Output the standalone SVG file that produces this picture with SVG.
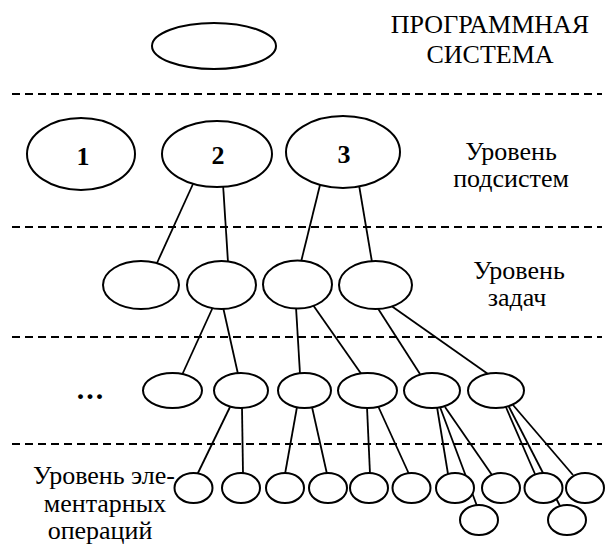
<svg xmlns="http://www.w3.org/2000/svg" width="605" height="547" viewBox="0 0 605 547">
<style>
.n{fill:#fff;stroke:#000;stroke-width:2}
.c line{stroke:#000;stroke-width:1.8}
.d line{stroke:#000;stroke-width:2;stroke-dasharray:8 5}
.t{font-family:"Liberation Serif","DejaVu Serif","Times New Roman",serif;font-size:26px;fill:#000;text-anchor:middle}
.b{font-family:"Liberation Serif","DejaVu Serif","Times New Roman",serif;font-size:26px;font-weight:bold;fill:#000;text-anchor:middle}
</style>
<rect width="605" height="547" fill="#fff"/>
<g id="levels" class="d">
<line x1="12" y1="94" x2="602" y2="94"/>
<line x1="12" y1="227" x2="602" y2="227"/>
<line x1="12" y1="337" x2="602" y2="337"/>
<line x1="12" y1="444" x2="602" y2="444"/>
</g>
<g id="labels">
<text class="t" x="490" y="33">ПРОГРАММНАЯ</text>
<text class="t" x="490" y="63">СИСТЕМА</text>
<text class="t" x="511" y="160">Уровень</text>
<text class="t" x="511" y="187">подсистем</text>
<text class="t" x="519" y="279">Уровень</text>
<text class="t" x="517" y="306">задач</text>
<text class="t" x="104" y="484">Уровень эле-</text>
<text class="t" x="105" y="512">ментарных</text>
<text class="t" x="100" y="539">операций</text>
<text class="b" x="91" y="399" style="font-size:30px" letter-spacing="2">...</text>
</g>
<g id="connectors" class="c">
<line x1="193" y1="184" x2="157" y2="263"/>
<line x1="223" y1="184" x2="228" y2="262"/>
<line x1="320" y1="185" x2="301" y2="262"/>
<line x1="359" y1="185" x2="372" y2="262"/>
<line x1="213" y1="307" x2="182" y2="375"/>
<line x1="223" y1="307" x2="238" y2="374"/>
<line x1="296" y1="307" x2="300" y2="374"/>
<line x1="313" y1="305" x2="362" y2="375"/>
<line x1="377" y1="307" x2="420" y2="374"/>
<line x1="390" y1="305" x2="488" y2="374"/>
<line x1="230" y1="407" x2="197" y2="475"/>
<line x1="242" y1="407" x2="243" y2="474"/>
<line x1="297" y1="407" x2="285" y2="474"/>
<line x1="312" y1="407" x2="327" y2="474"/>
<line x1="367" y1="407" x2="370" y2="474"/>
<line x1="378" y1="406" x2="409" y2="474"/>
<line x1="437" y1="407" x2="448" y2="474"/>
<line x1="440" y1="407" x2="477" y2="506"/>
<line x1="445" y1="407" x2="492" y2="475"/>
<line x1="505" y1="405" x2="535" y2="474"/>
<line x1="508" y1="405" x2="560" y2="506"/>
<line x1="513" y1="405" x2="573" y2="475"/>
</g>
<g id="root"><ellipse class="n" cx="214" cy="46" rx="62" ry="23"/></g>
<g id="s1"><ellipse class="n" cx="81" cy="154" rx="54" ry="36"/><text class="b" x="83" y="165">1</text></g>
<g id="s2"><ellipse class="n" cx="217" cy="154" rx="55" ry="33"/><text class="b" x="218" y="164">2</text></g>
<g id="s3"><ellipse class="n" cx="343" cy="152" rx="57" ry="36"/><text class="b" x="344" y="163">3</text></g>
<g id="t1"><ellipse class="n" cx="141" cy="285" rx="38" ry="24"/></g>
<g id="t2"><ellipse class="n" cx="221.5" cy="285" rx="34.5" ry="24"/></g>
<g id="t3"><ellipse class="n" cx="297.5" cy="284.5" rx="34.5" ry="24"/></g>
<g id="t4"><ellipse class="n" cx="375.5" cy="285" rx="36.5" ry="24"/></g>
<g id="m1"><ellipse class="n" cx="172.5" cy="390.5" rx="29.5" ry="17.5"/></g>
<g id="m2"><ellipse class="n" cx="241" cy="390.5" rx="27" ry="17.5"/></g>
<g id="m3"><ellipse class="n" cx="304.5" cy="390.5" rx="26.5" ry="17.5"/></g>
<g id="m4"><ellipse class="n" cx="367.5" cy="390.5" rx="29.5" ry="17.5"/></g>
<g id="m5"><ellipse class="n" cx="432" cy="390.5" rx="28" ry="17.5"/></g>
<g id="m6"><ellipse class="n" cx="496" cy="390.5" rx="28" ry="17.5"/></g>
<g id="e1"><ellipse class="n" cx="193.5" cy="488" rx="19" ry="15"/></g>
<g id="e2"><ellipse class="n" cx="241" cy="488" rx="19" ry="15"/></g>
<g id="e3"><ellipse class="n" cx="285" cy="488" rx="19" ry="15"/></g>
<g id="e4"><ellipse class="n" cx="328" cy="488" rx="19" ry="15"/></g>
<g id="e5"><ellipse class="n" cx="369" cy="488" rx="19" ry="15"/></g>
<g id="e6"><ellipse class="n" cx="411.5" cy="488" rx="19" ry="15"/></g>
<g id="e7"><ellipse class="n" cx="455" cy="488" rx="19" ry="15"/></g>
<g id="e8"><ellipse class="n" cx="501" cy="488" rx="19" ry="15"/></g>
<g id="e9"><ellipse class="n" cx="543.5" cy="488" rx="19" ry="15"/></g>
<g id="e10"><ellipse class="n" cx="585" cy="488" rx="19" ry="15"/></g>
<g id="e11"><ellipse class="n" cx="479" cy="520" rx="19" ry="15"/></g>
<g id="e12"><ellipse class="n" cx="567" cy="520" rx="19" ry="15"/></g>
</svg>
